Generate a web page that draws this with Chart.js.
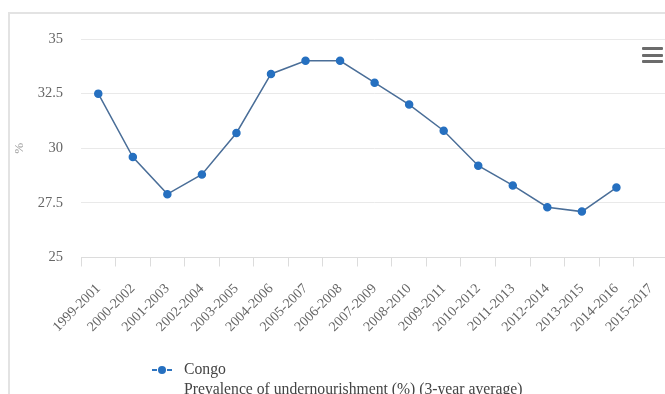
<!DOCTYPE html>
<html lang="en">
<head>
    <meta charset="UTF-8">
    <title>Prevalence of undernourishment - Congo</title>
    <script src="https://cdn.jsdelivr.net/npm/chart.js"></script>
    <style>
        body { margin: 0; background: white; font-family: "Liberation Serif", "Times New Roman", serif; }
        .wrap { position: relative; width: 665px; height: 394px; overflow: hidden; }
        .frame {
            position: absolute; left: 8px; top: 12px; right: -2px; bottom: -2px;
            border-top: 2px solid #e3e3e3; border-left: 2px solid #e3e3e3;
        }
        canvas { position: absolute; left: 0; top: 0; }
        .menu { position: absolute; left: 642px; top: 47px; width: 21px; }
        .menu div { height: 3px; background: #6b6b6b; margin-bottom: 3.5px; border-radius: 1px; }
        .legend { position: absolute; left: 150px; top: 359px; color: #444; font-size: 15.7px; line-height: 20px; }
        .legend .sym { position: absolute; left: 2px; top: 10px; width: 20px; }
        .legend .sym .l { position: absolute; top: 0; height: 2px; width: 5px; background: #2f75c0; }
        .legend .sym .d { position: absolute; left: 6px; top: -3px; width: 8px; height: 8px; border-radius: 50%; background: #2670c0; }
        .legend .txt { margin-left: 34px; }
    </style>
</head>
<body>
    <div class="wrap">
        <div class="frame"></div>
        <canvas id="chart" width="677" height="394"></canvas>
        <div class="menu"><div></div><div></div><div></div></div>
        <div class="legend">
            <div class="sym"><span class="l" style="left:0"></span><span class="d"></span><span class="l" style="left:15px"></span></div>
            <div class="txt">Congo</div>
            <div class="txt">Prevalence of undernourishment (%) (3-year average)</div>
        </div>
    </div>
    <script>
        const periods = ['1999-2001', '2000-2002', '2001-2003', '2002-2004', '2003-2005', '2004-2006',
            '2005-2007', '2006-2008', '2007-2009', '2008-2010', '2009-2011', '2010-2012',
            '2011-2013', '2012-2014', '2013-2015', '2014-2016', '2015-2017'];
        const congo = [32.5, 29.6, 27.9, 28.8, 30.7, 33.4, 34.0, 34.0, 33.0, 32.0, 30.8, 29.2,
            28.3, 27.3, 27.1, 28.2, null];
        const yTicks = [25, 27.5, 30, 32.5, 35];

        const serif = "'Liberation Serif', 'Times New Roman', serif";
        const ctx = document.getElementById('chart').getContext('2d');
        new Chart(ctx, {
            type: 'line',
            data: {
                labels: periods,
                datasets: [{
                    label: 'Congo',
                    data: congo,
                    borderColor: '#4a6e98',
                    borderWidth: 1.5,
                    pointBackgroundColor: '#2670c0',
                    pointBorderColor: '#2670c0',
                    pointRadius: 3.5,
                    tension: 0
                }]
            },
            options: {
                responsive: false,
                animation: false,
                layout: { padding: { top: 39, right: 0, left: 0, bottom: 0 } },
                plugins: { legend: { display: false }, tooltip: { enabled: false } },
                scales: {
                    x: {
                        offset: true,
                        grid: { offset: true, drawOnChartArea: false, tickLength: 9, color: '#dcdcdc' },
                        border: { color: '#dcdcdc' },
                        ticks: {
                            autoSkip: false, maxRotation: 45, minRotation: 45, padding: 14,
                            color: '#666', font: { family: serif, size: 14 }
                        },
                        afterFit: (scale) => { scale.height = 394 - 257.5; }
                    },
                    y: {
                        min: 25,
                        max: 35,
                        afterBuildTicks: (scale) => { scale.ticks = yTicks.map(v => ({ value: v })); },
                        afterFit: (scale) => { scale.width = 81; },
                        grid: { color: '#e9e9e9', drawTicks: false },
                        border: { display: false },
                        ticks: {
                            padding: 18, color: '#666',
                            font: { family: serif, size: 14.5 },
                            callback: (v) => String(v)
                        },
                        title: {
                            display: true, text: '%', color: '#999',
                            font: { family: serif, size: 13 },
                            padding: { top: 12, bottom: 0 }
                        }
                    }
                }
            }
        });
    </script>
</body>
</html>
